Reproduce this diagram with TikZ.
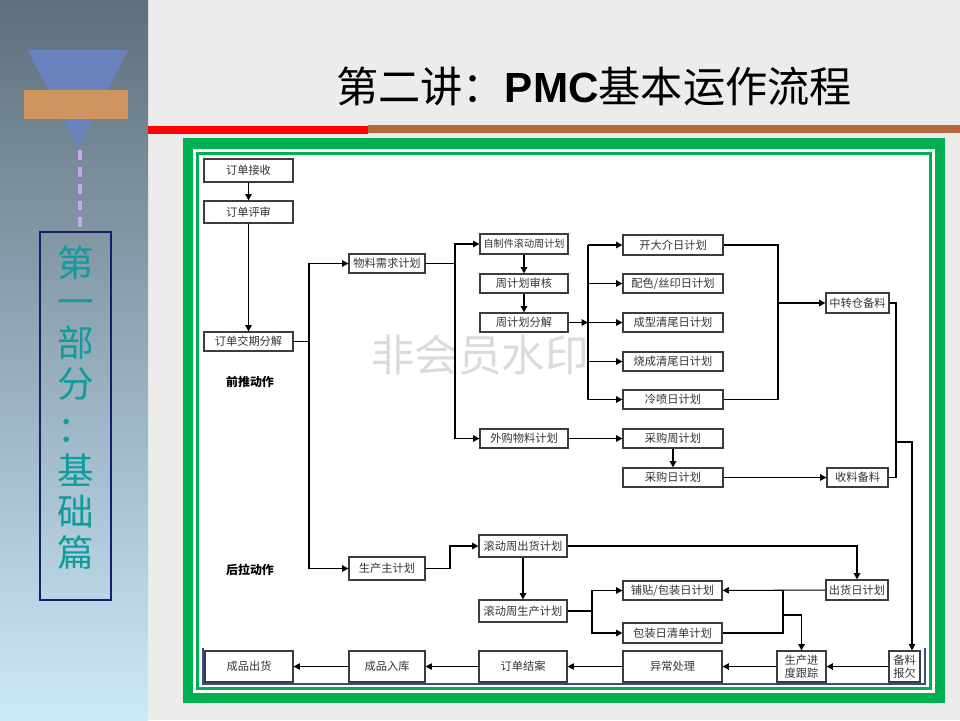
\documentclass[tikz,border=0pt]{standalone}
\usepackage{fontspec}
\setmainfont{Liberation Sans}
\newfontfamily\cjk{Noto Sans CJK SC}
\usetikzlibrary{arrows.meta,positioning}

\definecolor{slidebg}{HTML}{ECECEC}
\definecolor{paneltop}{HTML}{5E6F7B}
\definecolor{panelmid}{HTML}{A3BCCD}
\definecolor{panelbot}{HTML}{CCE9FA}
\definecolor{trifill}{HTML}{6A84C4}
\definecolor{barorange}{HTML}{D9975A}
\definecolor{dashlilac}{HTML}{C6A6EE}
\definecolor{tealtxt}{HTML}{0F9C9C}
\definecolor{navyline}{HTML}{1A1A6E}
\definecolor{barbrown}{HTML}{B5673E}
\definecolor{framegreen}{HTML}{00B050}
\definecolor{boxgray}{HTML}{3C3C3C}
\definecolor{textgray}{HTML}{353535}
\definecolor{edgeblue}{HTML}{2F4F8F}

\begin{document}
\begin{tikzpicture}[x=0.25mm,y=-0.25mm,
  box/.style={draw=boxgray,line width=0.8pt,fill=white,inner sep=0pt,
    minimum width=22mm,minimum height=4.75mm,text=textgray,align=center,
    font=\cjk\fontsize{8}{9.5}\selectfont},
  link/.style={line width=1.3pt},
  arr/.style={link,-{Triangle[length=4.5pt,width=4.5pt]}},
  thinarr/.style={line width=0.7pt,-{Triangle[length=4.5pt,width=4.5pt]}},
  sidetxt/.style={text=tealtxt,font=\cjk\fontsize{26}{26}\selectfont,inner sep=0pt,
    text height=0.84em,text depth=0.1em},
  steplabel/.style={font=\cjk\bfseries\fontsize{8.5}{10}\selectfont,inner sep=0pt}]

% Slide background
\fill[slidebg] (0,0) rectangle (960,720);
\shade[top color=paneltop,middle color=panelmid,bottom color=panelbot] (0,0) rectangle (148,720);

% Side ornament
\fill[trifill,opacity=0.9] (28,50) -- (128,50) -- (78,148) -- cycle;
\fill[barorange,opacity=0.9] (24,90) rectangle (128,119);
\draw[dashlilac,line width=2.2pt,dash pattern=on 7pt off 5pt] (80,150) -- (80,228);
\draw[navyline,line width=0.8pt] (40,232) rectangle (111,600);
\foreach \ch/\yy in {第/271,一/310,部/351,分/392,：/437,基/479,础/520,篇/561}
  \node[sidetxt] at (76,\yy) {\ch};

% Title
\node[inner sep=0pt] (title) at (594,86)
  {{\cjk\fontsize{30}{30}\selectfont 第二讲：}{\fontsize{30}{30}\selectfont\bfseries PMC}{\cjk\fontsize{30}{30}\selectfont 基本运作流程}};
\fill[red] (148,126) rectangle (368,134);
\fill[barbrown] (368,125) rectangle (960,133);

% Green frame
\fill[framegreen] (183,138) rectangle (945,703);
\fill[white] (193,149) rectangle (935,693);
\fill[framegreen] (196,152) rectangle (932,690);
\fill[white] (199,155) rectangle (929,687);
\draw[edgeblue,line width=1pt] (203,648) -- (203,684) -- (925,684) -- (925,648);

% Watermark
\node[text=black!14,font=\cjk\fontsize{31}{31}\selectfont] (mark) at (480,355) {非会员水印};

% Order steps
\node[box,minimum width=22.25mm,minimum height=5.75mm] (recv) at (248.5,170.5) {订单接收};
\node[box,minimum width=22.25mm,minimum height=5.5mm] (review) at (248.5,212) {订单评审};
\node[box,minimum width=22.25mm] (split) at (248.5,341.5) {订单交期分解};
\node[steplabel] (push) at (250,382) {前推动作};
\node[steplabel] (pull) at (250,570) {后拉动作};

% Material planning
\node[box,minimum width=19mm] (mrp) at (387,263.5) {物料需求计划};
\node[box,minimum height=5mm,font=\cjk\fontsize{7.2}{8.5}\selectfont] (selfweek) at (524,244) {自制件滚动周计划};
\node[box] (wkcheck) at (524,283.5) {周计划审核};
\node[box] (wksplit) at (524,322.5) {周计划分解};
\node[box] (buyplan) at (524,438.5) {外购物料计划};
\node[box,minimum width=25mm,minimum height=5mm] (d1) at (673,245) {开大介日计划};
\node[box,minimum width=25mm] (d2) at (673,283.5) {配色/丝印日计划};
\node[box,minimum width=25mm] (d3) at (673,322.5) {成型清尾日计划};
\node[box,minimum width=25mm] (d4) at (673,361.5) {烧成清尾日计划};
\node[box,minimum width=25mm] (d5) at (673,399.5) {冷喷日计划};
\node[box,minimum width=25mm] (buywk) at (673,438.5) {采购周计划};
\node[box,minimum width=25mm] (buyday) at (673,477.5) {采购日计划};
\node[box,minimum width=15.75mm,minimum height=5mm] (transit) at (857.5,303) {中转仓备料};
\node[box,minimum width=15.25mm] (receive) at (857.5,477.5) {收料备料};

% Production planning
\node[box,minimum width=19mm,minimum height=5.75mm] (mps) at (387,568.5) {生产主计划};
\node[box,minimum height=5.5mm] (shipwk) at (523,546) {滚动周出货计划};
\node[box,minimum height=5.5mm] (prodwk) at (523,611) {滚动周生产计划};
\node[box,minimum width=15.5mm,minimum height=5mm] (shipday) at (857,590) {出货日计划};
\node[box,minimum width=24.75mm] (pack) at (672.5,590.5) {铺贴/包装日计划};
\node[box,minimum width=24.75mm,minimum height=5mm] (packlist) at (672.5,633) {包装日清单计划};

% Bottom row
\node[box,minimum width=12.25mm,minimum height=7.75mm] (track) at (801.5,666.5) {生产进\\度跟踪};
\node[box,minimum width=7.75mm,minimum height=7.75mm] (short) at (904.5,666.5) {备料\\报欠};
\node[box,minimum width=24.75mm,minimum height=7.75mm] (except) at (672.5,666.5) {异常处理};
\node[box,minimum height=7.75mm] (close) at (523,666.5) {订单结案};
\node[box,minimum width=19mm,minimum height=7.75mm] (stockin) at (387,666.5) {成品入库};
\node[box,minimum height=7.75mm] (shipout) at (249,666.5) {成品出货};

% Junctions
\coordinate (j1) at (309,341.5);
\coordinate (j2) at (455,263.5);
\coordinate (j3) at (588,322.5);
\coordinate (j4) at (778,303);
\coordinate (j5) at (896,442);
\coordinate (j6) at (912,442);
\coordinate (j7) at (592,611);
\coordinate (j8) at (783,615);
\coordinate (j9) at (450,568.5);

% Front push
\draw[arr] (recv) -- (review);
\draw[arr] (review) -- (split);
\draw[link] (split) -- (j1);
\draw[arr] (j1) |- (mrp);
\draw[arr] (j1) |- (mps);
\draw[link] (mrp) -- (j2);
\draw[arr] (j2) |- (selfweek);
\draw[arr] (j2) |- (buyplan);
\draw[arr] (selfweek) -- (wkcheck);
\draw[arr] (wkcheck) -- (wksplit);
\draw[arr] (wksplit) -- (j3);
\draw[link] (j3 |- d1) -- (j3 |- d5);
\foreach \d in {d1,d2,d3,d4,d5}
  \draw[arr] (j3 |- \d) -- (\d);
\draw[link] (d1) -| (j4);
\draw[link] (d5) -| (j4);
\draw[arr] (j4) -- (transit);
\draw[arr] (buyplan) -- (buywk);
\draw[arr] (buywk) -- (buyday);
\draw[arr] (buyday) -- (receive);
\draw[link] (transit.east) -| (j5) |- (receive.east);
\draw[arr] (j5) -- (j6) -- (j6 |- short.north);

% Back pull
\draw[link] (mps) -- (j9);
\draw[arr] (j9) |- (shipwk);
\draw[arr] (shipwk) -- (prodwk);
\draw[arr] (shipwk) -| (shipday);
\draw[thinarr] (shipday) -- (pack);
\draw[link] (prodwk) -- (j7);
\draw[arr] (j7) |- (pack);
\draw[arr] (j7) |- (packlist);
\draw[link] (pack) -| (j8);
\draw[link] (packlist) -| (j8);
\draw[arr] (j8) -| (track);

% Closing
\draw[arr] (short) -- (track);
\draw[arr] (track) -- (except);
\draw[thinarr] (except) -- (close);
\draw[thinarr] (close) -- (stockin);
\draw[thinarr] (stockin) -- (shipout);

\end{tikzpicture}
\end{document}
